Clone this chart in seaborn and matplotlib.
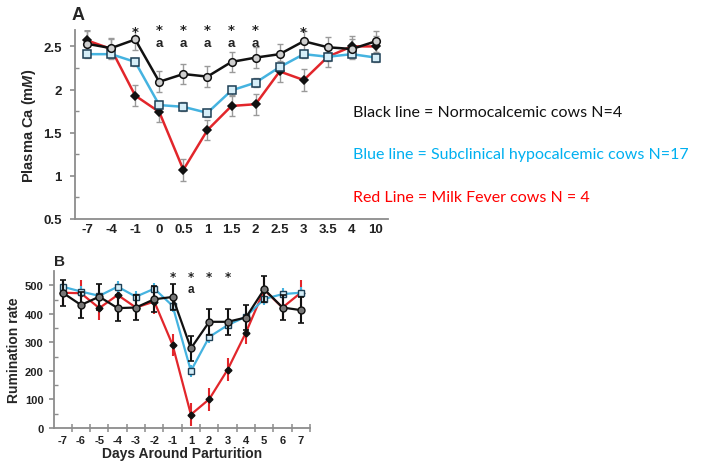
import numpy as np
import pandas as pd
import matplotlib
matplotlib.use("Agg")
import matplotlib.pyplot as plt
import seaborn as sns
from matplotlib.ticker import MultipleLocator, FixedLocator

# ---------------- data ----------------
days_a = ["-7", "-4", "-1", "0", "0.5", "1", "1.5", "2", "2.5", "3", "3.5", "4", "10"]
ca_normo = [2.53, 2.48, 2.58, 2.09, 2.18, 2.15, 2.32, 2.37, 2.41, 2.56, 2.49, 2.47, 2.56]
ca_normo_err = [0.15, 0.12, 0.12, 0.12, 0.12, 0.12, 0.12, 0.12, 0.12, 0.12, 0.12, 0.12, 0.12]
ca_subclin = [2.41, 2.41, 2.32, 1.82, 1.80, 1.73, 1.99, 2.08, 2.26, 2.41, 2.38, 2.41, 2.37]
ca_subclin_err = [0.05, 0.05, 0.05, 0.05, 0.05, 0.05, 0.05, 0.05, 0.05, 0.05, 0.05, 0.05, 0.05]
ca_fever = [2.57, 2.47, 1.93, 1.74, 1.07, 1.53, 1.81, 1.83, 2.21, 2.11, 2.38, 2.50, 2.50]
ca_fever_err = [0.12, 0.12, 0.12, 0.12, 0.13, 0.12, 0.12, 0.12, 0.12, 0.13, 0.12, 0.12, 0.12]
star_a = ["-1", "0", "0.5", "1", "1.5", "2", "3"]
letter_a = ["0", "0.5", "1", "1.5", "2"]

days_b = ["-7", "-6", "-5", "-4", "-3", "-2", "-1", "1", "2", "3", "4", "5", "6", "7"]
rum_normo = [474, 431, 460, 420, 422, 451, 459, 279, 372, 372, 387, 486, 422, 413]
rum_normo_err = [45, 45, 45, 45, 45, 45, 45, 45, 45, 45, 45, 45, 45, 45]
rum_subclin = [495, 478, 463, 495, 460, 488, 428, 200, 319, 360, 390, 452, 469, 474]
rum_subclin_err = [20, 20, 20, 20, 20, 20, 20, 20, 20, 20, 20, 20, 20, 20]
rum_fever = [474, 472, 420, 466, 422, 443, 291, 47, 101, 204, 334, 484, 422, 474]
rum_fever_err = [45, 45, 40, 45, 45, 45, 40, 40, 40, 40, 40, 45, 45, 45]
star_b = ["-1", "1", "2", "3"]
letter_b = ["1"]

legend_texts = ["Black line = Normocalcemic cows N=4",
                "Blue line = Subclinical hypocalcemic cows N=17",
                "Red Line = Milk Fever cows N = 4"]

# ---------------- style ----------------
sns.set_style("ticks")
plt.rcParams["font.family"] = ["Liberation Sans", "DejaVu Sans"]
plt.rcParams["mathtext.fontset"] = "custom"
plt.rcParams["mathtext.it"] = "Liberation Sans:bold:italic"
plt.rcParams["mathtext.rm"] = "Liberation Sans:bold"
plt.rcParams["mathtext.bf"] = "DejaVu Sans:bold"

BLACK = "#111111"
BLUE = "#45b3e0"
RED = "#e2262b"
LEG_BLUE = "#00b0f0"
LEG_RED = "#ff0000"
SPINE = "#8c8c8c"

W, H = 702, 464
fig = plt.figure(figsize=(W / 100, H / 100), dpi=100)

def px_axes(l, t, r, b):
    return fig.add_axes([l / W, 1 - b / H, (r - l) / W, (b - t) / H])

def style_axes(ax):
    sns.despine(ax=ax)
    for s in ("left", "bottom"):
        ax.spines[s].set_color(SPINE)
        ax.spines[s].set_linewidth(1.3)
    ax.tick_params(axis="y", which="major", direction="out", length=3.5, color=SPINE, width=1.2)
    ax.tick_params(axis="y", which="minor", direction="in", length=3, color=SPINE, width=1.0)

STAR = "$\\mathbf{*}$"

def mark_significance(ax, days, stars, letters, star_base, letter_base, size, ls):
    for d in stars:
        i = days.index(d)
        if d in letters:
            ax.text(i, letter_base, STAR + "\na", ha="center", va="baseline", ma="center",
                    fontsize=size, fontweight="bold", color="#222222",
                    linespacing=ls, clip_on=False)
        else:
            ax.text(i, star_base, STAR, ha="center", va="baseline",
                    fontsize=size, fontweight="bold", color="#222222", clip_on=False)

# ---------------- panel A ----------------
axA = px_axes(75, 31, 388, 220)
dfA = pd.DataFrame({"day": days_a, "pos": np.arange(len(days_a)),
                    "normo": ca_normo, "sub": ca_subclin, "fever": ca_fever})

series_a = [
    ("fever", ca_fever_err, RED, "D", BLACK, BLACK, 4.5, 2),
    ("sub", ca_subclin_err, BLUE, "s", "#d6eef8", "#1d3f55", 5.5, 3),
    ("normo", ca_normo_err, BLACK, "o", "#cfcfcf", BLACK, 5.5, 4),
]
for col, err, color, mk, mfc, mec, ms, z in series_a:
    axA.errorbar(dfA["pos"], dfA[col], yerr=err, fmt="none", ecolor="#9a9a9a",
                 elinewidth=1.0, capsize=2, capthick=1.0, zorder=1)
    sns.lineplot(data=dfA, x="pos", y=col, ax=axA, color=color, lw=1.8,
                 marker=mk, markerfacecolor=mfc, markeredgecolor=mec,
                 markersize=ms, markeredgewidth=1.1, zorder=z)

axA.set_xlim(-0.5, len(days_a) - 0.5)
axA.set_ylim(0.5, 2.69)
axA.set_xticks(np.arange(len(days_a)))
axA.set_xticklabels(days_a)
axA.yaxis.set_major_locator(FixedLocator([0.5, 1, 1.5, 2, 2.5]))
axA.set_yticklabels(["0.5", "1", "1.5", "2", "2.5"])
axA.yaxis.set_minor_locator(FixedLocator([0.75, 1.25, 1.75, 2.25]))
style_axes(axA)
axA.tick_params(axis="x", length=0, pad=3)
axA.tick_params(axis="y", which="major", pad=6)
for lab in axA.get_xticklabels() + axA.get_yticklabels():
    lab.set_fontweight("bold")
    lab.set_fontsize(9.5)
    lab.set_color("#222222")
axA.set_xlabel("")
axA.set_ylabel("Plasma Ca (m$\\it{M}$)", fontsize=10.5, fontweight="bold", labelpad=4)

mark_significance(axA, days_a, star_a, letter_a, star_base=2.66, letter_base=2.50,
                  size=9.5, ls=1.4)
fig.text(72 / W, 1 - 16 / H, "A", fontsize=13, fontweight="bold", va="center", ha="left")

# ---------------- panel B ----------------
axB = px_axes(53.5, 272, 310, 429)
dfB = pd.DataFrame({"day": days_b, "pos": np.arange(len(days_b)),
                    "normo": rum_normo, "sub": rum_subclin, "fever": rum_fever})
series_b = [
    ("fever", rum_fever_err, RED, RED, "D", BLACK, BLACK, 3.5, 0, 2),
    ("sub", rum_subclin_err, BLUE, BLUE, "s", "#d6eef8", "#1d3f55", 5, 0, 3),
    ("normo", rum_normo_err, BLACK, BLACK, "o", "#777777", BLACK, 5, 2, 4),
]
for col, err, color, ecol, mk, mfc, mec, ms, cap, z in series_b:
    axB.errorbar(dfB["pos"], dfB[col], yerr=err, fmt="none", ecolor=ecol,
                 elinewidth=1.5, capsize=cap, capthick=1.2, zorder=z - 0.5)
    sns.lineplot(data=dfB, x="pos", y=col, ax=axB, color=color, lw=1.6,
                 marker=mk, markerfacecolor=mfc, markeredgecolor=mec,
                 markersize=ms, markeredgewidth=1.0, zorder=z)

axB.set_xlim(-0.5, len(days_b) - 0.5)
axB.set_ylim(0, 550)
axB.set_xticks(np.arange(len(days_b)))
axB.set_xticklabels(days_b)
axB.xaxis.set_minor_locator(FixedLocator(np.arange(len(days_b)) + 0.5))
axB.yaxis.set_major_locator(MultipleLocator(100))
axB.yaxis.set_minor_locator(FixedLocator([50, 150, 250, 350, 450]))
style_axes(axB)
axB.tick_params(axis="x", which="major", length=0, pad=5)
axB.tick_params(axis="x", which="minor", direction="inout", length=6, color=SPINE, width=1.1)
for lab in axB.get_xticklabels() + axB.get_yticklabels():
    lab.set_fontweight("bold")
    lab.set_fontsize(8)
    lab.set_color("#222222")
axB.set_xlabel("Days Around Parturition", fontsize=10, fontweight="bold", labelpad=1)
axB.set_ylabel("Rumination rate", fontsize=10, fontweight="bold", labelpad=3)

mark_significance(axB, days_b, star_b, letter_b, star_base=525, letter_base=476,
                  size=8.5, ls=1.25)
fig.text(54 / W, 1 - 262 / H, "B", fontsize=11, fontweight="bold", va="center", ha="left")

# ---------------- legend texts ----------------
for txt, col, y in zip(legend_texts, [BLACK, LEG_BLUE, LEG_RED], [113, 155, 198]):
    fig.text(353 / W, 1 - y / H, txt, color=col, fontsize=11.5,
             family=["Lato", "DejaVu Sans"], va="center", ha="left")

fig.savefig("out.png", dpi=100)
